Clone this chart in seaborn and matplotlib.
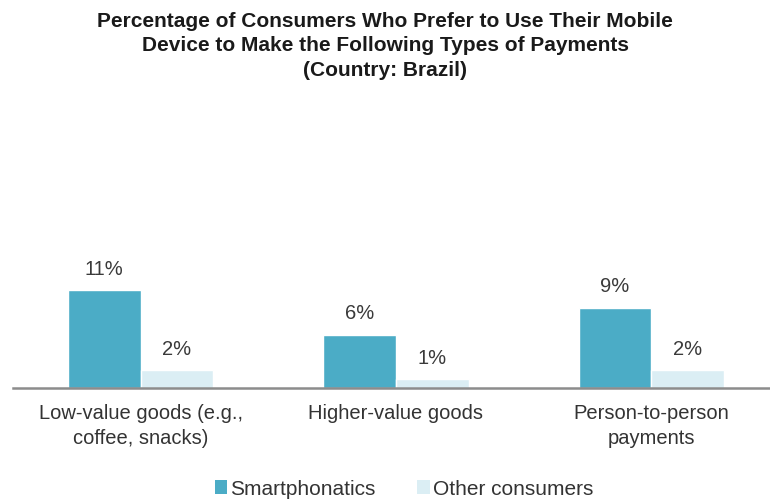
import matplotlib
matplotlib.use("Agg")
import matplotlib.pyplot as plt
import seaborn as sns
import pandas as pd
from matplotlib.patches import Patch

categories = ["Low-value goods (e.g.,\ncoffee, snacks)", "Higher-value goods", "Person-to-person\npayments"]
groups = ["Smartphonatics", "Other consumers"]
smartphonatics = [11, 6, 9]
other_consumers = [2, 1, 2]
colors = ["#4BACC6", "#DBEEF4"]

df = pd.DataFrame({
    "category": categories * 2,
    "group": [groups[0]] * 3 + [groups[1]] * 3,
    "value": smartphonatics + other_consumers,
})

sns.set_style("white")
plt.rcParams["font.family"] = ["Liberation Sans", "DejaVu Sans"]

fig = plt.figure(figsize=(7.7, 5.02), dpi=100)
# axes in pixel terms: left 13, right 779, baseline at y=389
W, H = 770, 502
left, right = 13, 779
bottom_px, top_px = 389, 211
ax = fig.add_axes([left / W, 1 - bottom_px / H, (right - left) / W, (bottom_px - top_px) / H])

sns.barplot(data=df, x="category", y="value", hue="group", palette=colors,
            width=0.57, gap=0, saturation=1, ax=ax, legend=False)

ax.set_xlim(-0.5, 2.5)
ax.set_ylim(0, 20)
ax.set_xlabel("")
ax.set_ylabel("")
ax.set_yticks([])
for s in ["top", "right", "left"]:
    ax.spines[s].set_visible(False)
ax.spines["bottom"].set_color("#8c8c8c")
ax.spines["bottom"].set_linewidth(1.8)
ax.tick_params(axis="x", length=0, pad=11, labelsize=14.5, labelcolor="#333333")
for lbl in ax.get_xticklabels():
    lbl.set_linespacing(1.35)

for cont in ax.containers:
    ax.bar_label(cont, labels=[f"{v:.0f}%" for v in cont.datavalues], padding=9,
                 fontsize=14.5, color="#3a3a3a")

fig.text(0.5, 1 - 12 / H,
         "Percentage of Consumers Who Prefer to Use Their Mobile\n"
         "Device to Make the Following Types of Payments\n(Country: Brazil)",
         ha="center", va="top", fontsize=15, fontweight="bold",
         color="#1a1a1a", linespacing=1.35)

handles = [Patch(facecolor=c, edgecolor="none") for c in colors]
fig.legend(handles, groups, loc="center", bbox_to_anchor=(404 / W, 1 - 490 / H),
           ncol=2, frameon=False, fontsize=15, handlelength=0.6, handleheight=0.65,
           handletextpad=0.15, columnspacing=2.0, labelcolor="#333333")

fig.savefig("out.png", dpi=100)
